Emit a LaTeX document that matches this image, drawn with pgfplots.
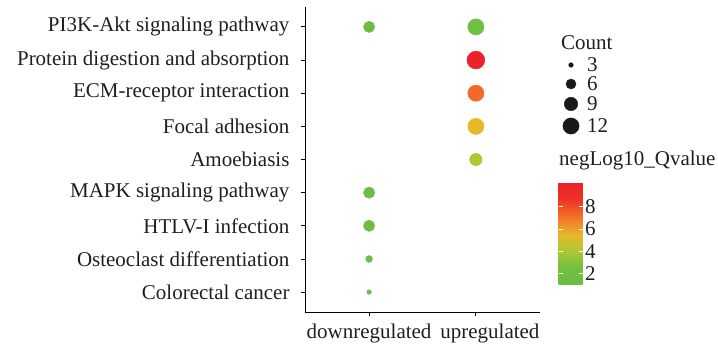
\documentclass[border=0pt]{standalone}
\usepackage{fontspec}
\setmainfont{Liberation Serif}
\usepackage{pgfplots}
\usepackage{pgfplotstable}
\pgfplotsset{compat=1.18}
\pgfplotsset{/pgf/number format/assume math mode=true}

\pgfplotstableread{
x y count q
1 9 7  1.6
2 9 12 2.2
2 8 14 10.2
2 7 12 7.3
2 6 12 5.5
2 5 8  4.0
1 4 7  1.6
1 3 7  1.6
1 2 4  1.5
1 1 3  1.5
}\dotdata

\pgfplotstableread{
x y count
571 288 3
571 269 6
571 249 9
571 227 12
}\legdata

\pgfplotsset{
  qvmap/.style={colormap={qv}{
    rgb255(10pt)=(106,190,69)
    rgb255(25pt)=(112,191,64)
    rgb255(40pt)=(172,201,50)
    rgb255(55pt)=(232,183,42)
    rgb255(70pt)=(242,118,40)
    rgb255(87pt)=(238,48,40)
    rgb255(102pt)=(236,34,39)}}
}

\newcommand{\lab}{\fontsize{21}{25}\selectfont}

\begin{document}
\begin{tikzpicture}
\useasboundingbox (0,0) rectangle (718pt,353pt);

\begin{axis}[
  at={(305pt,41pt)}, anchor=south west,
  scale only axis, width=235pt, height=305pt,
  xmin=0.4, xmax=2.6, ymin=0.4, ymax=9.6,
  axis x line*=bottom, axis y line*=left,
  axis line style={line width=0.9pt, black},
  tick align=outside, major tick length=4pt,
  tick style={line width=0.9pt, black},
  xtick={1,2}, xticklabels={downregulated, \hspace*{28pt}upregulated},
  ytick={1,...,9},
  yticklabels={Colorectal cancer, Osteoclast differentiation, HTLV-I infection, MAPK signaling pathway, Amoebiasis, Focal adhesion, ECM-receptor interaction, Protein digestion and absorption, PI3K-Akt signaling pathway},
  ticklabel style={font=\lab, text=black!88},
  yticklabel style={xshift=-8pt},
  xticklabel style={yshift=-4pt},
  qvmap,
  point meta min=1.0, point meta max=10.2,
  colorbar,
  colorbar/width=24pt,
  colorbar style={
    at={(parent axis.south east)}, anchor=south west,
    xshift=10pt, yshift=27pt,
    scale only axis, height=103pt,
    ytick={2,4,6,8},
    yticklabel pos=right,
    ytick pos=both,
    tick align=inside, major tick length=4pt,
    ytick style={white, line width=0.8pt},
    axis line style={draw=none},
    axis on top,
    yticklabel style={font=\lab, text=black!88, xshift=-1pt},
  },
]
\addplot[
  scatter, only marks, mark=*,
  scatter src=explicit,
  scatter/use mapped color={draw=mapped color, fill=mapped color},
  visualization depends on={sqrt(28*\thisrow{count}-59)/2-0.2 \as \rr},
  scatter/@pre marker code/.append style={/tikz/mark size=\rr},
] table[x=x, y=y, meta=q] {\dotdata};
\end{axis}

\begin{axis}[
  at={(0pt,0pt)}, anchor=south west,
  scale only axis, width=718pt, height=353pt,
  xmin=0, xmax=718, ymin=0, ymax=353,
  hide axis, clip=false,
]
\addplot[
  scatter, only marks, mark=*,
  scatter src=explicit,
  scatter/use mapped color={draw=black!90, fill=black!90},
  visualization depends on={sqrt(28*\thisrow{count}-59)/2-0.2 \as \rr},
  scatter/@pre marker code/.append style={/tikz/mark size=\rr},
] table[x=x, y=y, meta=count] {\legdata};
\addplot[
  only marks, mark=none,
  point meta=explicit,
  nodes near coords={\pgfmathprintnumber{\pgfplotspointmeta}},
  nodes near coords style={anchor=west, xshift=16pt, font=\lab, text=black!88, inner sep=0pt},
] table[x=x, y=y, meta=count] {\legdata};
\node[anchor=west, font=\lab, text=black!88, inner sep=0pt] at (axis cs:561,310) {Count};
\node[anchor=west, font=\lab, text=black!88, inner sep=0pt] at (axis cs:559,193) {negLog10\_Qvalue};
\end{axis}
\end{tikzpicture}
\end{document}
